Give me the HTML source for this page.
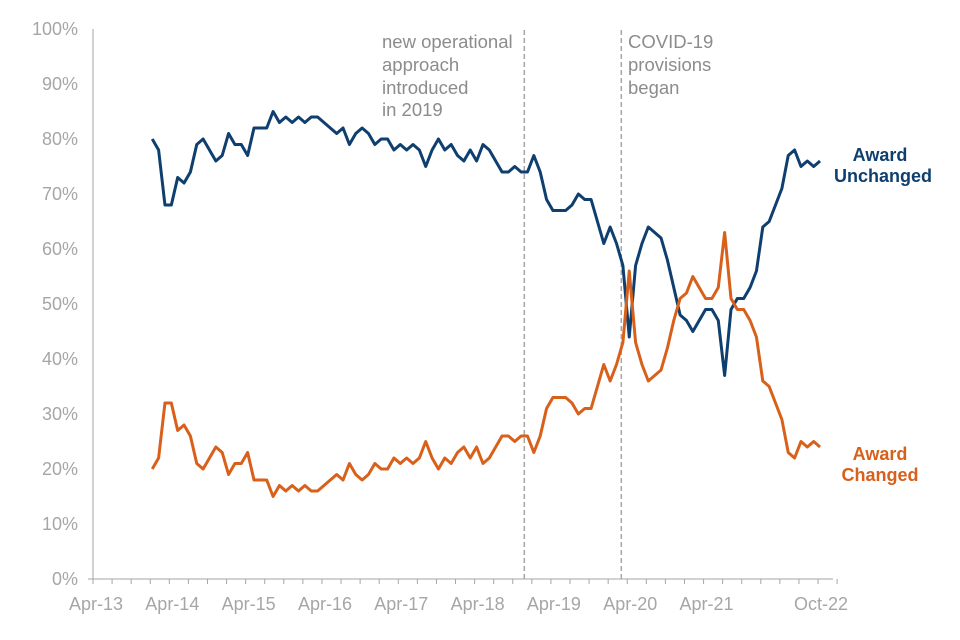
<!DOCTYPE html>
<html><head><meta charset="utf-8"><style>
body{margin:0;background:#fff;}
svg{display:block;font-family:"Liberation Sans",Arial,sans-serif;}
</style></head><body>
<svg id="chart" width="960" height="640">
<g id="axes"></g><g id="series"></g>
<g font-size="18.5" fill="#8c8c8c">
<text x="382" y="48">new operational</text>
<text x="382" y="71">approach</text>
<text x="382" y="94">introduced</text>
<text x="382" y="116">in 2019</text>
<text x="628" y="48">COVID-19</text>
<text x="628" y="71">provisions</text>
<text x="628" y="94">began</text>
</g>
<g font-size="18" font-weight="bold" text-anchor="middle">
<text x="880" y="161" fill="#0e3f6e">Award</text>
<text x="883" y="182" fill="#0e3f6e">Unchanged</text>
<text x="880" y="460" fill="#d8601a">Award</text>
<text x="880" y="481" fill="#d8601a">Changed</text>
</g>
</svg>
<script>
// months since Jan-14, values in %
const unchanged=[80,78,68,68,73,72,74,79,80,78,76,77,81,79,79,77,82,82,82,85,83,84,83,84,83,84,84,83,82,81,82,79,81,82,81,79,80,80,78,79,78,79,78,75,78,80,78,79,77,76,78,76,79,78,76,74,74,75,74,74,77,74,69,67,67,67,68,70,69,69,65,61,64,61,57,44,57,61,64,63,62,58,53,48,47,45,47,49,49,47,37,49,51,51,53,56,64,65,68,71,77,78,75,76,75,76];
const changed=[20,22,32,32,27,28,26,21,20,22,24,23,19,21,21,23,18,18,18,15,17,16,17,16,17,16,16,17,18,19,18,21,19,18,19,21,20,20,22,21,22,21,22,25,22,20,22,21,23,24,22,24,21,22,24,26,26,25,26,26,23,26,31,33,33,33,32,30,31,31,35,39,36,39,43,56,43,39,36,37,38,42,47,51,52,55,53,51,51,53,63,51,49,49,47,44,36,35,32,29,23,22,25,24,25,24];
const yTicks=[0,10,20,30,40,50,60,70,80,90,100];
const xLabels=["Apr-13","Apr-14","Apr-15","Apr-16","Apr-17","Apr-18","Apr-19","Apr-20","Apr-21","Oct-22"];
const xLabelMonths=[-9,3,15,27,39,51,63,75,87,105];
const eventMonths=[58.5,73.75];
const NS="http://www.w3.org/2000/svg";
const X=m=>95+(m+9)*6.36, Y=v=>579-v*5.5;
const ax=document.getElementById('axes'), se=document.getElementById('series');
function mk(tag,attrs,parent){const e=document.createElementNS(NS,tag);for(const k in attrs)e.setAttribute(k,attrs[k]);parent.appendChild(e);return e;}
yTicks.forEach(v=>{const t=mk('text',{x:78,y:Y(v)+6,'text-anchor':'end','font-size':18,fill:'#a6a6a6'},ax);t.textContent=v+'%';

});
const yl=mk('line',{x1:93,x2:93,y1:Y(100),y2:Y(0),stroke:'#a6a6a6','stroke-width':1},ax);


const xl=mk('line',{x1:88,x2:833,y1:Y(0),y2:Y(0),stroke:'#a6a6a6','stroke-width':1},ax);


for(let m=-9;m<=108;m+=3){const tk=mk('line',{x1:X(m)-2,x2:X(m)-2,y1:579,y2:584,stroke:'#a6a6a6'},ax);

}
xLabels.forEach((s,i)=>{const t=mk('text',{x:X(xLabelMonths[i])+1,y:610,'text-anchor':'middle','font-size':18,fill:'#a6a6a6'},ax);t.textContent=s;

});
eventMonths.forEach(m=>{const l=mk('line',{x1:X(m),x2:X(m),y1:30,y2:579,stroke:'#a6a6a6','stroke-width':1.5,'stroke-dasharray':'5,3'},ax);

});
function line(d,c,name){const p=mk('polyline',{points:d.map((v,i)=>X(i)+','+Y(v)).join(' '),fill:'none',stroke:c,'stroke-width':3,'stroke-linejoin':'round'},se);

}
line(unchanged,'#0e3f6e','award-unchanged-line');
line(changed,'#d8601a','award-changed-line');
</script>
</body></html>
